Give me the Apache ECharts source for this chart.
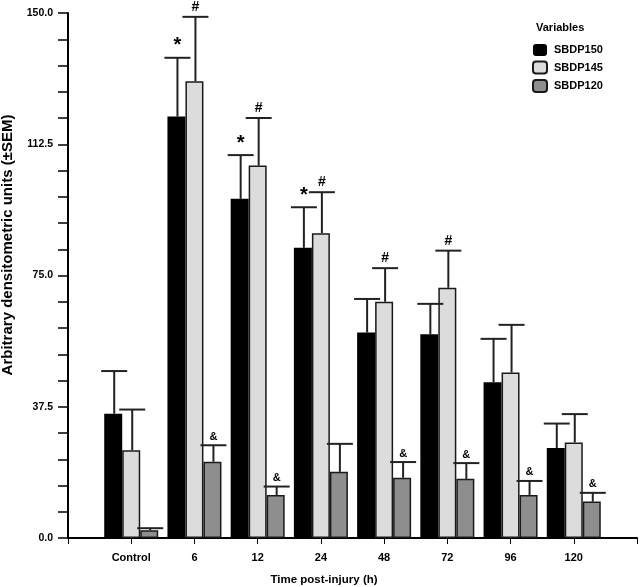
<!DOCTYPE html>
<html>
<head>
<meta charset="utf-8">
<script src="https://cdn.jsdelivr.net/npm/echarts@6/dist/echarts.min.js"></script>
<style>
html,body{margin:0;padding:0;background:#fff;}
#chart{width:640px;height:587px;}
</style>
</head>
<body>
<div id="chart"></div>
<script>
// ---- data ----
var categories = ['Control', '6', '12', '24', '48', '72', '96', '120'];
var seriesNames = ['SBDP150', 'SBDP145', 'SBDP120'];
var sbdp150 = [35.5, 120.4, 96.9, 82.9, 58.7, 58.2, 44.5, 25.7];
var sbdp150Err = [12.2, 16.8, 12.5, 11.6, 9.6, 8.7, 12.4, 7.0];
var sbdp145 = [25.1, 130.5, 106.4, 87.1, 67.5, 71.5, 47.3, 27.3];
var sbdp145Err = [11.6, 18.4, 13.6, 11.7, 9.6, 10.6, 13.6, 8.1];
var sbdp120 = [2.2, 21.8, 12.3, 18.9, 17.2, 16.9, 12.3, 10.4];
var sbdp120Err = [0.6, 4.7, 2.4, 8.0, 4.5, 4.5, 4.0, 2.5];
var mark150 = ['', '*', '*', '*', '', '', '', ''];
var mark145 = ['', '#', '#', '#', '#', '#', '', ''];
var mark120 = ['', '&', '&', '', '&', '&', '&', '&'];
var yTicks = ['0.0', '37.5', '75.0', '112.5', '150.0'];

// ---- build ----
var FONT = '"Liberation Sans", Arial, Helvetica, sans-serif';
var axisCats = [''].concat(categories).concat(['']);
function pad(arr) { return [null].concat(arr).concat([null]); }

var BW = 18;
var colors = ['#000000', '#dcdcdc', '#8e8e8e'];
var borders = ['#000000', '#1a1a1a', '#1a1a1a'];
var means = [sbdp150, sbdp145, sbdp120];
var errs = [sbdp150Err, sbdp145Err, sbdp120Err];
var marks = [mark150, mark145, mark120];
var markSize = [20, 14, 11];
var markLift = [2, 3, 3];

var series = [];
seriesNames.forEach(function (name, s) {
  series.push({
    name: name,
    type: 'bar',
    barWidth: BW,
    barGap: '0%',
    data: pad(means[s]),
    itemStyle: { color: colors[s], borderColor: borders[s], borderWidth: s === 0 ? 0 : 1.5 },
    z: 2
  });
});
seriesNames.forEach(function (name, s) {
  var offset = (s - 1) * BW;
  var data = means[s].map(function (m, i) { return [i + 1, m + errs[s][i], m]; });
  series.push({
    name: name + '_err',
    type: 'custom',
    z: 3,
    silent: true,
    data: data,
    renderItem: function (params, api) {
      var xi = api.value(0);
      var base = api.coord([xi, api.value(2)]);
      var tip = api.coord([xi, api.value(1)]);
      var cx = base[0] + offset + 1;
      var st = { stroke: '#222', lineWidth: 2 };
      var children = [
        { type: 'line', shape: { x1: cx, y1: base[1], x2: cx, y2: tip[1] }, style: st },
        { type: 'line', shape: { x1: cx - 13, y1: tip[1], x2: cx + 13, y2: tip[1] }, style: st }
      ];
      var m = marks[s][params.dataIndex];
      if (m) {
        children.push({
          type: 'text',
          style: {
            text: m, x: cx, y: tip[1] - markLift[s],
            align: 'center', verticalAlign: 'bottom',
            font: 'bold ' + markSize[s] + 'px ' + FONT, fill: '#000'
          }
        });
      }
      return { type: 'group', children: children };
    }
  });
});

var chart = echarts.init(document.getElementById('chart'), null, { renderer: 'canvas' });
chart.setOption({
  animation: false,
  backgroundColor: '#fff',
  grid: { left: 68, right: 0, top: 13, bottom: 49, containLabel: false },
  legend: {
    orient: 'vertical',
    left: 527, top: 39,
    itemWidth: 14, itemHeight: 12, itemGap: 4.5,
    data: seriesNames,
    textStyle: { fontFamily: FONT, fontWeight: 'bold', fontSize: 11, color: '#000', padding: [0, 0, 0, 2] }
  },
  xAxis: {
    type: 'category',
    data: axisCats,
    boundaryGap: false,
    axisLine: { lineStyle: { color: '#000', width: 2 } },
    axisTick: { length: 6, alignWithLabel: true, lineStyle: { color: '#000', width: 1 }, interval: 0 },
    axisLabel: { interval: 0, margin: 14, fontFamily: FONT, fontWeight: 'bold', fontSize: 11, color: '#000' },
    splitLine: { show: false }
  },
  yAxis: {
    type: 'value',
    min: 0, max: 150, interval: 7.5,
    axisLine: { show: true, lineStyle: { color: '#000', width: 2 } },
    axisTick: { show: true, length: 10, lineStyle: { color: '#000', width: 1.5 } },
    axisLabel: {
      margin: 15, fontFamily: FONT, fontWeight: 'bold', fontSize: 10.5, color: '#000',
      formatter: function (v) {
        var k = Math.round(v / 37.5);
        return Math.abs(k * 37.5 - v) < 1e-6 ? yTicks[k] : '';
      }
    },
    splitLine: { show: false }
  },
  graphic: [
    {
      type: 'text', left: 536, top: 22,
      style: { text: 'Variables', font: 'bold 11px ' + FONT, fill: '#000' }
    },
    {
      type: 'text', x: 324, y: 580,
      style: { text: 'Time post-injury (h)', font: 'bold 11.5px ' + FONT, fill: '#000', align: 'center', verticalAlign: 'middle' }
    },
    {
      type: 'text', x: 8, y: 245, rotation: Math.PI / 2,
      style: { text: 'Arbitrary densitometric units (±SEM)', font: 'bold 15px ' + FONT, fill: '#000', align: 'center', verticalAlign: 'middle' }
    }
  ],
  series: series
});
</script>
</body>
</html>
